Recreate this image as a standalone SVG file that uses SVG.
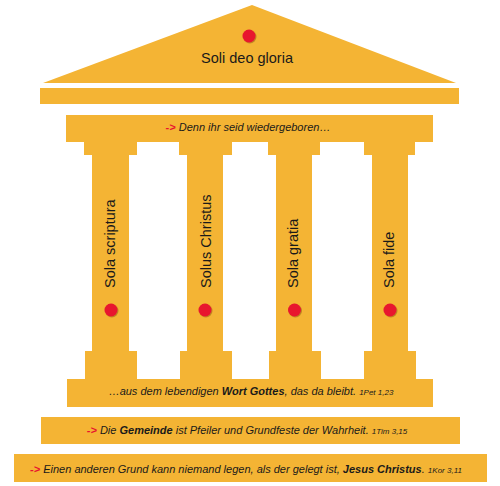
<svg xmlns="http://www.w3.org/2000/svg" width="500" height="486" viewBox="0 0 500 486">
<defs>
<style>
.g{fill:#f4b434}
.dot{fill:#e8132f;filter:url(#sh)}
.t{font-family:"Liberation Sans",Arial,sans-serif;fill:#1a1a1a}
.i{font-style:italic;font-size:11px}
.a{fill:#e8132f;font-weight:bold}
.b{font-weight:bold}
.r{font-size:8px}
.p{font-size:14.5px}
</style>
<filter id="sh" x="-50%" y="-50%" width="200%" height="200%">
<feDropShadow dx="0.8" dy="0.8" stdDeviation="0.6" flood-color="#6b3a00" flood-opacity="0.5"/>
</filter>
</defs>
<rect width="500" height="486" fill="#ffffff"/>
<g id="pediment">
<polygon class="g" points="252,5 456,83 43,83"/>
<circle class="dot" cx="249" cy="36" r="6.5"/>
<text class="t p" x="247" y="63" text-anchor="middle">Soli deo gloria</text>
</g>
<g id="architrave">
<rect class="g" x="40" y="88" width="419" height="16"/>
</g>
<g id="entablature">
<rect class="g" x="66" y="115" width="367" height="27"/>
<text class="t i" x="248" y="131" text-anchor="middle"><tspan class="a">-&gt;</tspan> Denn ihr seid wiedergeboren…</text>
</g>
<g id="pillar1">
<rect class="g" x="84" y="142" width="53" height="13"/>
<rect class="g" x="92" y="154" width="37" height="198"/>
<rect class="g" x="85" y="351" width="52" height="29"/>
<text class="t p" transform="translate(115,288) rotate(-90)">Sola scriptura</text>
<circle class="dot" cx="111" cy="310" r="6.5"/>
</g>
<g id="pillar2">
<rect class="g" x="179" y="142" width="53" height="13"/>
<rect class="g" x="187" y="154" width="36" height="198"/>
<rect class="g" x="180" y="351" width="52" height="29"/>
<text class="t p" transform="translate(211,288) rotate(-90)">Solus Christus</text>
<circle class="dot" cx="205" cy="310" r="6.5"/>
</g>
<g id="pillar3">
<rect class="g" x="268" y="142" width="52" height="13"/>
<rect class="g" x="276" y="154" width="36" height="198"/>
<rect class="g" x="269" y="351" width="52" height="29"/>
<text class="t p" transform="translate(298,288) rotate(-90)">Sola gratia</text>
<circle class="dot" cx="294.5" cy="310" r="6.5"/>
</g>
<g id="pillar4">
<rect class="g" x="364" y="142" width="51" height="13"/>
<rect class="g" x="372" y="154" width="36" height="198"/>
<rect class="g" x="364" y="351" width="52" height="29"/>
<text class="t p" transform="translate(394,288) rotate(-90)">Sola fide</text>
<circle class="dot" cx="390" cy="310" r="6.5"/>
</g>
<g id="stylobate">
<rect class="g" x="67" y="379" width="366" height="28"/>
<text class="t i" x="251" y="395" text-anchor="middle">…aus dem lebendigen <tspan class="b">Wort Gottes</tspan>, das da bleibt. <tspan class="r">1Pet 1,23</tspan></text>
</g>
<g id="step1">
<rect class="g" x="41" y="417" width="419" height="27"/>
<text class="t i" x="247" y="434" text-anchor="middle"><tspan class="a">-&gt;</tspan> Die <tspan class="b">Gemeinde</tspan> ist Pfeiler und Grundfeste der Wahrheit. <tspan class="r">1Tim 3,15</tspan></text>
</g>
<g id="step2">
<rect class="g" x="14" y="454" width="473" height="28"/>
<text class="t i" x="246" y="473" text-anchor="middle"><tspan class="a">-&gt;</tspan> Einen anderen Grund kann niemand legen, als der gelegt ist, <tspan class="b">Jesus Christus</tspan>. <tspan class="r">1Kor 3,11</tspan></text>
</g>
<g id="connectors"></g>
</svg>
